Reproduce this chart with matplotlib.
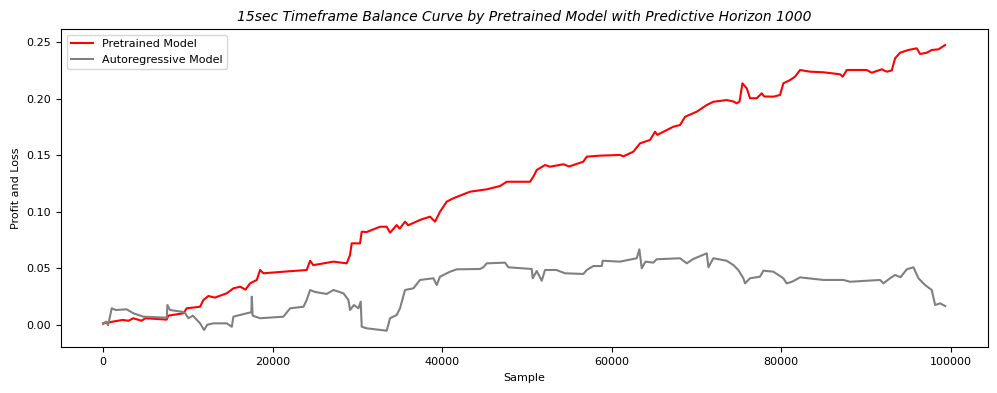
import numpy as np
import matplotlib
matplotlib.use("Agg")
import matplotlib.pyplot as plt

# punkty (sample, PnL)
pretrained_x = [0, 2300, 3000, 3560, 4540, 5000, 7500, 7700, 9480, 9870, 11450, 11840, 12430, 13200,
                14600, 15380, 16200, 16800, 17350, 18140, 18530, 18920, 21280, 24030, 24430, 24800,
                27180, 28750, 29140, 29340, 30320, 30520, 31100, 32680, 33470, 33860, 34650, 35000,
                35630, 36000, 37500, 38580, 39170, 39760, 40550, 41340, 43300, 45270, 46840, 47630,
                50380, 50770, 51170, 52150, 52740, 54310, 55000, 56670, 57070, 58640, 61000, 61400,
                62570, 63360, 64540, 65130, 65400, 67290, 68080, 68670, 70050, 71230, 72010, 73580,
                74400, 74760, 75100, 75440, 75950, 76340, 77130, 77720, 78000, 79090, 79880, 80270,
                81060, 81650, 82240, 83420, 84990, 86960, 87280, 87750, 89320, 90110, 90700, 91880,
                92470, 93060, 93450, 94040, 95020, 96010, 96400, 97190, 97780, 98570, 99360]
pretrained_y = [0.0012, 0.0042, 0.0035, 0.0057, 0.0035, 0.0057, 0.0045, 0.0080, 0.0101, 0.0145, 0.0159,
                0.0219, 0.0254, 0.0240, 0.0278, 0.0322, 0.0336, 0.0310, 0.0366, 0.0396, 0.0484, 0.0455,
                0.0469, 0.0484, 0.0566, 0.0527, 0.0558, 0.0543, 0.0617, 0.0720, 0.0720, 0.0823, 0.0820,
                0.0867, 0.0867, 0.0814, 0.0882, 0.0850, 0.0912, 0.0880, 0.0930, 0.0956, 0.0912, 0.1000,
                0.1089, 0.1119, 0.1177, 0.1198, 0.1227, 0.1265, 0.1265, 0.1310, 0.1369, 0.1413, 0.1398,
                0.1420, 0.1400, 0.1443, 0.1487, 0.1496, 0.1502, 0.1490, 0.1531, 0.1605, 0.1635, 0.1708,
                0.1680, 0.1752, 0.1767, 0.1840, 0.1885, 0.1944, 0.1973, 0.1988, 0.1975, 0.1959, 0.1975,
                0.2136, 0.2092, 0.2004, 0.2004, 0.2048, 0.2020, 0.2018, 0.2033, 0.2136, 0.2165, 0.2195,
                0.2254, 0.2239, 0.2234, 0.2216, 0.2195, 0.2254, 0.2254, 0.2254, 0.2230, 0.2260, 0.2239,
                0.2250, 0.2357, 0.2407, 0.2431, 0.2446, 0.2396, 0.2407, 0.2431, 0.2437, 0.2475]

autoreg_x = [0, 350, 600, 1020, 1500, 2790, 3580, 4760, 7520, 7590, 7900, 9290, 9700, 10070, 10600,
             11450, 11920, 12300, 13020, 14600, 15190, 15380, 16960, 17500, 17550, 17650, 18530,
             21280, 22070, 23650, 24030, 24430, 25000, 26390, 27180, 28360, 28950, 29140, 29600,
             30130, 30400, 30520, 31110, 33470, 33860, 34650, 35040, 35630, 36620, 37400, 38980,
             39370, 39760, 40940, 41730, 44480, 44870, 45270, 47430, 47830, 50580, 50700, 51170,
             51760, 52150, 53500, 54510, 56670, 57070, 57850, 58840, 58960, 61000, 62970, 63280,
             63560, 64000, 64930, 65320, 68080, 68870, 69600, 71230, 71430, 72010, 73580, 74370,
             74960, 75550, 75750, 76340, 77520, 77910, 79090, 80270, 80660, 81300, 82240, 84990,
             87350, 88140, 91680, 92080, 92860, 93450, 94100, 94830, 95620, 96210, 96990, 97780,
             98180, 98770, 99360]
autoreg_y = [0.0005, 0.0027, -0.0005, 0.0145, 0.0130, 0.0136, 0.0101, 0.0071, 0.0062, 0.0174, 0.0130,
             0.0115, 0.0101, 0.0057, 0.0080, 0.0012, -0.0047, 0.0000, 0.0012, 0.0012, -0.0018, 0.0071,
             0.0101, 0.0110, 0.0248, 0.0080, 0.0057, 0.0071, 0.0145, 0.0159, 0.0219, 0.0307, 0.0290,
             0.0272, 0.0307, 0.0278, 0.0219, 0.0130, 0.0174, 0.0145, 0.0204, -0.0018, -0.0032, -0.0053,
             0.0057, 0.0086, 0.0145, 0.0307, 0.0322, 0.0396, 0.0411, 0.0351, 0.0425, 0.0469, 0.0490,
             0.0493, 0.0508, 0.0543, 0.0549, 0.0508, 0.0493, 0.0411, 0.0475, 0.0389, 0.0484, 0.0484,
             0.0455, 0.0449, 0.0484, 0.0519, 0.0519, 0.0566, 0.0558, 0.0588, 0.0667, 0.0499, 0.0558,
             0.0549, 0.0579, 0.0588, 0.0543, 0.0580, 0.0632, 0.0508, 0.0588, 0.0566, 0.0528, 0.0484,
             0.0411, 0.0366, 0.0411, 0.0425, 0.0478, 0.0469, 0.0411, 0.0366, 0.0380, 0.0419, 0.0396,
             0.0396, 0.0380, 0.0396, 0.0366, 0.0411, 0.0440, 0.0420, 0.0490, 0.0508, 0.0411, 0.0351,
             0.0307, 0.0174, 0.0189, 0.0165]

fig = plt.figure(figsize=(9.97, 3.93), dpi=100)
ax = fig.add_axes([0.0612, 0.1163, 0.9298, 0.8091])
ax.plot(pretrained_x, pretrained_y, color="red", lw=1.5, label="Pretrained Model")
ax.plot(autoreg_x, autoreg_y, color="gray", lw=1.5, label="Autoregressive Model")
ax.set_xlim(-4960, 104420)
ax.set_ylim(-0.02, 0.2614)
ax.set_title("15sec Timeframe Balance Curve by Pretrained Model with Predictive Horizon 1000",
             fontsize=10, style="italic")
ax.set_xlabel("Sample", fontsize=8)
ax.set_ylabel("Profit and Loss", fontsize=8)
ax.tick_params(labelsize=8)
ax.legend(loc="upper left", fontsize=8)
fig.savefig("out.png")
